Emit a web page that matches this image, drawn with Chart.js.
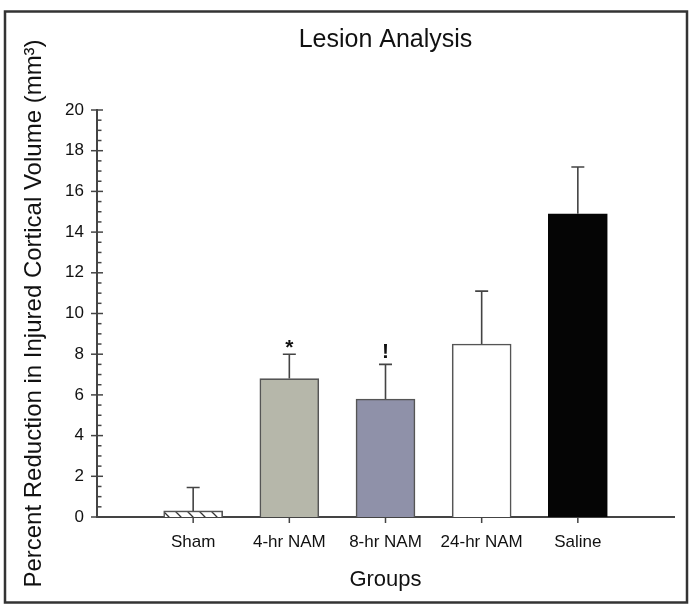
<!DOCTYPE html>
<html><head><meta charset="utf-8">
<script src="https://cdn.jsdelivr.net/npm/chart.js@4"></script>
<style>html,body{margin:0;padding:0;background:#fff}#wrap{width:689px;height:604px;position:relative}canvas{display:block}</style>
</head><body><div id="wrap"><canvas id="c" width="689" height="604"></canvas></div>
<script>
// ---- data ----
const groups = ['Sham', '4-hr NAM', '8-hr NAM', '24-hr NAM', 'Saline'];
const means = [0.3, 6.8, 5.8, 8.5, 14.9];
const errors = [1.15, 1.2, 1.7, 2.6, 2.3];
const marks = ['', '*', '!', '', ''];
const yTickValues = [0, 2, 4, 6, 8, 10, 12, 14, 16, 18, 20];
const yMinorStep = 0.5;
const titleText = 'Lesion Analysis';
const xTitle = 'Groups';
const yTitle = 'Percent Reduction in Injured Cortical Volume (mm\u00B3)';

// ---- style ----
const FONT = "'Liberation Sans', Arial, Helvetica, sans-serif";
const INK = '#111';
const AXIS = '#444';

function hatch() {
  const s = 12;
  const c = document.createElement('canvas');
  c.width = s; c.height = s;
  const g = c.getContext('2d');
  g.fillStyle = '#fff'; g.fillRect(0, 0, s, s);
  g.strokeStyle = '#333'; g.lineWidth = 1.3;
  g.beginPath();
  g.moveTo(-2, -2); g.lineTo(s + 2, s + 2);
  g.moveTo(-2, s - 2); g.lineTo(2, s + 2);
  g.moveTo(s - 2, -2); g.lineTo(s + 2, 2);
  g.stroke();
  return g.createPattern(c, 'repeat');
}

const pad = a => [null].concat(a, [null]);
const fills = [hatch(), '#b6b7aa', '#8f91a9', '#ffffff', '#050505'];
const edges = ['#555', '#555', '#555', '#555', '#050505'];

const extras = {
  id: 'extras',
  beforeDraw(chart) {
    const ctx = chart.ctx;
    ctx.save(); ctx.fillStyle = '#fff'; ctx.fillRect(0, 0, chart.width, chart.height); ctx.restore();
  },
  afterDraw(chart) {
    const { ctx, scales: { x, y } } = chart;
    const meta = chart.getDatasetMeta(0);
    ctx.save();
    // y ticks (major both sides, minor inside)
    ctx.strokeStyle = AXIS; ctx.lineWidth = 1.5;
    const ax = x.left;
    const yMin = yTickValues[0], yMax = yTickValues[yTickValues.length - 1];
    for (let v = yMin; v <= yMax + 1e-9; v += yMinorStep) {
      const py = y.getPixelForValue(v);
      const major = yTickValues.some(t => Math.abs(t - v) < 1e-6);
      ctx.beginPath();
      ctx.moveTo(major ? ax - 6 : ax, py);
      ctx.lineTo(major ? ax + 6 : ax + 4.5, py);
      ctx.stroke();
    }
    // x ticks
    groups.forEach((g, i) => {
      const px = x.getPixelForValue(i + 1);
      ctx.beginPath(); ctx.moveTo(px, y.bottom); ctx.lineTo(px, y.bottom + 6); ctx.stroke();
    });
    // error bars
    ctx.lineWidth = 1.6; ctx.strokeStyle = AXIS;
    const capTops = [];
    groups.forEach((g, i) => {
      const bar = meta.data[i + 1];
      const top = y.getPixelForValue(means[i] + errors[i]);
      capTops.push(top);
      ctx.beginPath();
      ctx.moveTo(bar.x, bar.y); ctx.lineTo(bar.x, top);
      ctx.moveTo(bar.x - 6.5, top); ctx.lineTo(bar.x + 6.5, top);
      ctx.stroke();
    });
    // significance marks
    ctx.fillStyle = INK; ctx.font = 'bold 21px ' + FONT;
    ctx.textAlign = 'center'; ctx.textBaseline = 'alphabetic';
    marks.forEach((m, i) => {
      if (!m) return;
      const bar = meta.data[i + 1];
      const d = ctx.measureText(m).actualBoundingBoxDescent;
      ctx.fillText(m, bar.x, capTops[i] - 6 - d);
    });
    // chart title
    ctx.font = '25px ' + FONT; ctx.textBaseline = 'alphabetic';
    ctx.fillText(titleText, (x.left + x.right) / 2, 47);
    // frame
    ctx.strokeStyle = '#333'; ctx.lineWidth = 2.5;
    ctx.strokeRect(5, 11.5, 682, 591);
    ctx.restore();
  }
};

new Chart(document.getElementById('c'), {
  type: 'bar',
  data: {
    labels: [''].concat(groups, ['']),
    datasets: [{
      data: pad(means),
      backgroundColor: pad(fills),
      borderColor: pad(edges),
      borderWidth: 1.6,
      barThickness: 59
    }]
  },
  options: {
    responsive: false,
    animation: false,
    devicePixelRatio: 1,
    layout: { padding: { left: 0, right: 9, top: 110, bottom: 0 } },
    plugins: { legend: { display: false }, tooltip: { enabled: false }, title: { display: false } },
    scales: {
      x: {
        type: 'category',
        offset: false,
        grid: { display: false, drawTicks: false, tickLength: 0 },
        border: { display: true, color: AXIS, width: 2 },
        ticks: { color: INK, font: { family: FONT, size: 17 }, padding: 15, maxRotation: 0, autoSkip: false },
        title: { display: true, text: xTitle, color: INK, font: { family: FONT, size: 22 }, padding: { top: 0, bottom: 11 } },
        afterFit: s => { s.height = 87; }
      },
      y: {
        min: 0, max: 20,
        afterBuildTicks: s => { s.ticks = yTickValues.map(v => ({ value: v })); },
        grid: { display: false, drawTicks: false, tickLength: 0 },
        border: { display: true, color: AXIS, width: 2 },
        ticks: { color: INK, font: { family: FONT, size: 17 }, padding: 13 },
        title: { display: true, text: yTitle, color: INK, font: { family: FONT, size: 24 }, padding: { top: 20, bottom: 0 } },
        afterFit: s => { s.width = 97; }
      }
    }
  },
  plugins: [extras]
});
</script></body></html>
